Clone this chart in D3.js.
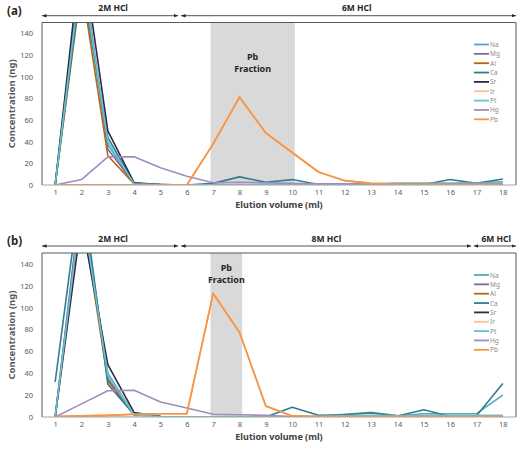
<!DOCTYPE html>
<html><head><meta charset="utf-8">
<script src="https://cdn.jsdelivr.net/npm/d3@7"></script>
<style>body{margin:0;background:#fff}svg{display:block}text{font-family:"Noto Sans","Open Sans",sans-serif}</style>
</head><body>
<svg id="c" width="527" height="458"></svg>
<script>
// ---------- data ----------
const fractions = [1,2,3,4,5,6,7,8,9,10,11,12,13,14,15,16,17,18];
const elements = ["Na","Mg","Al","Ca","Sr","Ir","Pt","Hg","Pb"];
const yTicks = [0,20,40,60,80,100,120,140];

// Panel (a)
const aNa = [0,195,37,1,0,0,0,0,0,0,0,0.5,1,1.5,1.5,1.5,2,3];
const aMg = [0,210,33,1.5,0.5,0,0,0,0,0,0,0,0,0,0,0,0,0];
const aAl = [0,185,27,1,0,0,0,0,0,0,0,0,0,0,0,0,0,0];
const aCa = [0,190,44,1,0.5,0,1.5,7.5,2.5,5,0.5,0.5,0.5,0.5,0.5,5,1.5,5.5];
const aSr = [0,220,50,2,0.5,0,0,0,0,0,0,0,0,0,0,0,0,0];
const aIr = [0,0,0,0,0,0,0,0,0,0,0,0,0,0,0,0,0,0];
const aPt = [0,200,40,1,0.5,0,0,0,0,0,0,0.5,1,1.5,1.5,1.5,1.5,2];
const aHg = [0,5,26,26,16,8,2,2.5,2,1.5,1,1,1,1,1,1,1,1];
const aPb = [0,0,0,0,0,0,38,81,48,30,12,4,1.5,0.5,0.5,0.5,0.5,0.5];

// Panel (b)
const bNa = [0,200,40,2,0.5,0,0,0,0,0,0.5,2.5,4.3,1,3,3,3,20];
const bMg = [0,205,35,2,0.5,0,0,0,0,0,0,0,0,0,0,0,0,0];
const bAl = [0,190,33,2,0.5,0,0,0,0,0,0,0,0,0,0,0,0,0];
const bCa = [32,215,30,2,0.5,0,0,0,0,9,1.5,2,3.7,1,6.7,0.5,1.2,30.6];
const bSr = [0,180,48,4,0.5,0,0,0,0,0,0,0,0,0,0,0,0,0];
const bIr = [0,0,0,0,0,0,0,0,0,0,0,0,0,0,0,0,0,0];
const bPt = [0,195,38,2,0.5,0,0,0,0,0,0.5,1,1.5,1,1.5,1.5,1.5,1.5];
const bHg = [0,12,24,24.5,13.8,8.3,2.5,2,1.5,0.5,0.5,0.5,0.5,0.5,0.5,0.5,0.5,0.5];
const bPb = [0.5,1,1.5,2.5,3,3,113,77.5,10,1,0.5,0.5,0.5,0.5,0.5,0.5,0.5,0.5];

// eluent stages: labels, ranges and label positions in fraction units
const stageLabelsA = ["2M HCl","6M HCl"];
const stageRangesA = [[0.5,5.67],[5.78,18.5]];
const stageLabelAtA = [3.2,12.45];
const stageLabelsB = ["2M HCl","8M HCl","6M HCl"];
const stageRangesB = [[0.5,5.67],[5.78,16.8],[16.9,18.5]];
const stageLabelAtB = [3.2,11.3,17.75];
const pbFractionA = [6.9,10.1];
const pbFractionB = [6.9,8.1];

// ---------- styles ----------
const colors = {Na:"#4bacc6",Mg:"#8064a2",Al:"#b8650f",Ca:"#2f7e8f",Sr:"#2e2a45",Ir:"#fac090",Pt:"#62c5d6",Hg:"#a08cc0",Pb:"#f79646"};

const svg = d3.select("#c");
const defs = svg.append("defs");
["L","R"].forEach(k=>{
  defs.append("marker").attr("id","arr"+k).attr("viewBox","0 0 10 10")
    .attr("refX", k==="R"?10:0).attr("refY",5).attr("markerWidth",4.5).attr("markerHeight",4.5)
    .attr("markerUnits","userSpaceOnUse").attr("orient","auto")
    .append("path").attr("d", k==="R"?"M0,1L10,5L0,9Z":"M10,1L0,5L10,9Z").attr("fill","#262626");
});

function panel(cfg){
  const {id, top, bottom, series, stageLabels, stageRanges, stageLabelAt, pb, letter, arrowY, pbY} = cfg;
  const left = 42, right = 516;
  const x = d3.scaleLinear().domain([0.5,18.5]).range([left,right]);
  const y = d3.scaleLinear().domain([0,150]).range([bottom,top]);
  const g = svg.append("g");
  defs.append("clipPath").attr("id","clip"+id).append("rect")
    .attr("x",left).attr("y",top).attr("width",right-left).attr("height",bottom-top);

  // shaded Pb fraction
  g.append("rect").attr("x",x(pb[0])).attr("y",top).attr("width",x(pb[1])-x(pb[0]))
    .attr("height",bottom-top).attr("fill","#d9d9d9");
  g.append("text").attr("x",x((pb[0]+pb[1])/2)).attr("y",pbY).attr("text-anchor","middle")
    .attr("font-size",9).attr("font-weight","bold").attr("fill","#262626").text("Pb");
  g.append("text").attr("x",x((pb[0]+pb[1])/2)).attr("y",pbY+11.5).attr("text-anchor","middle")
    .attr("font-size",9).attr("font-weight","bold").attr("fill","#262626").text("Fraction");

  // lines
  const line = d3.line().x((d,i)=>x(fractions[i])).y(d=>y(d));
  const lg = g.append("g").attr("clip-path","url(#clip"+id+")");
  elements.forEach((el,k)=>{
    lg.append("path").datum(series[k]).attr("d",line).attr("fill","none")
      .attr("stroke",colors[el]).attr("stroke-width",1.6).attr("stroke-linejoin","round");
  });
  lg.append("path").datum(series[8]).attr("d",line).attr("fill","none")
    .attr("stroke",colors.Pb).attr("stroke-width",1.6);

  // frame
  g.append("path").attr("d",`M${left},${bottom}V${top}H${right}V${bottom}`)
    .attr("fill","none").attr("stroke","#595959").attr("stroke-width",1);
  g.append("line").attr("x1",left).attr("x2",right).attr("y1",bottom).attr("y2",bottom)
    .attr("stroke","#a6a6a6").attr("stroke-width",1.2);

  // y axis ticks
  const ya = d3.axisLeft(y).tickValues(yTicks).tickSize(0).tickPadding(9);
  const yg = g.append("g").attr("transform",`translate(${left},0)`).call(ya);
  yg.select(".domain").remove();
  yg.selectAll("text").attr("font-size",7.5).attr("fill","#595959").attr("font-family","Noto Sans, sans-serif");
  // x axis ticks
  const xa = d3.axisBottom(x).tickValues(fractions).tickSize(0).tickPadding(5).tickFormat(d3.format("d"));
  const xg = g.append("g").attr("transform",`translate(0,${bottom})`).call(xa);
  xg.select(".domain").remove();
  xg.selectAll("text").attr("font-size",7.5).attr("fill","#595959").attr("font-family","Noto Sans, sans-serif");

  // titles
  g.append("text").attr("transform",`translate(15,${(top+bottom)/2}) rotate(-90)`)
    .attr("text-anchor","middle").attr("font-size",9.5).attr("font-weight","bold").attr("fill","#595959")
    .text("Concentration (ng)");
  g.append("text").attr("x",(left+right)/2).attr("y",bottom+23).attr("text-anchor","middle")
    .attr("font-size",9).attr("font-weight","bold").attr("fill","#404040").text("Elution volume (ml)");
  g.append("text").attr("x",7).attr("y",top-8).attr("font-size",11.5).attr("font-weight","bold")
    .attr("fill","#262626").text(letter);

  // stage arrows
  stageRanges.forEach((r,i)=>{
    g.append("line").attr("x1",x(r[0])).attr("x2",x(r[1])).attr("y1",arrowY).attr("y2",arrowY)
      .attr("stroke","#262626").attr("stroke-width",0.8)
      .attr("marker-start","url(#arrL)").attr("marker-end","url(#arrR)");
    g.append("text").attr("x",x(stageLabelAt[i])).attr("y",arrowY-4.5).attr("text-anchor","middle")
      .attr("font-size",8.5).attr("font-weight","bold").attr("fill","#262626").text(stageLabels[i]);
  });

  // legend
  const leg = g.append("g");
  elements.forEach((el,k)=>{
    const ly = top + 22 + k*9.35;
    leg.append("line").attr("x1",474).attr("x2",489).attr("y1",ly).attr("y2",ly)
      .attr("stroke",colors[el]).attr("stroke-width",1.8);
    leg.append("text").attr("x",490).attr("y",ly+2.5).attr("font-size",6.5).attr("fill","#8c8c8c").text(el);
  });
}

panel({id:"a", top:22.5, bottom:185, letter:"(a)", arrowY:15.7, pbY:60,
  series:[aNa,aMg,aAl,aCa,aSr,aIr,aPt,aHg,aPb],
  stageLabels:stageLabelsA, stageRanges:stageRangesA, stageLabelAt:stageLabelAtA, pb:pbFractionA});
panel({id:"b", top:253, bottom:417, letter:"(b)", arrowY:246, pbY:271,
  series:[bNa,bMg,bAl,bCa,bSr,bIr,bPt,bHg,bPb],
  stageLabels:stageLabelsB, stageRanges:stageRangesB, stageLabelAt:stageLabelAtB, pb:pbFractionB});
</script>
</body></html>
